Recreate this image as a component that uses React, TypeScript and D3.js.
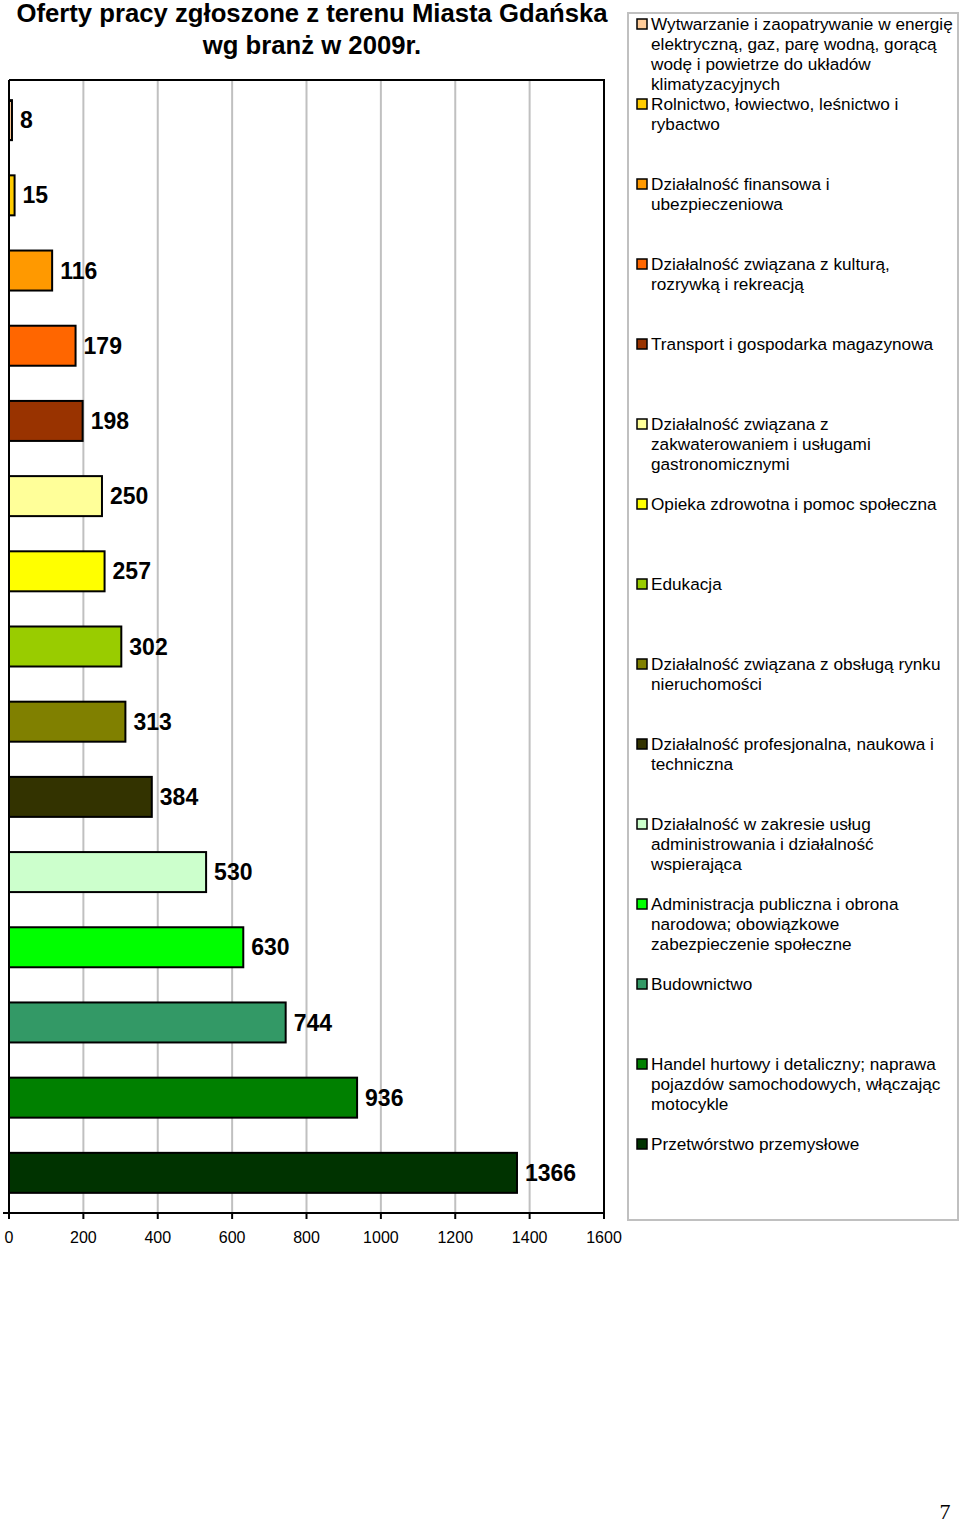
import { useEffect, useRef } from 'react';
import * as d3 from 'd3';

const titleLines = ['Oferty pracy zgłoszone z terenu Miasta Gdańska', 'wg branż w 2009r.'];

const values = [8, 15, 116, 179, 198, 250, 257, 302, 313, 384, 530, 630, 744, 936, 1366];

const colors = [
    '#FFCC99', '#FFCC00', '#FF9900', '#FF6600', '#993300',
    '#FFFF99', '#FFFF00', '#99CC00', '#808000', '#333300',
    '#CCFFCC', '#00FF00', '#339966', '#008000', '#003300',
];

const legendLabels: string[][] = [
    ['Wytwarzanie i zaopatrywanie w energię', 'elektryczną, gaz, parę wodną, gorącą', 'wodę i powietrze do układów', 'klimatyzacyjnych'],
    ['Rolnictwo, łowiectwo, leśnictwo i', 'rybactwo'],
    ['Działalność finansowa i', 'ubezpieczeniowa'],
    ['Działalność związana z kulturą,', 'rozrywką i rekreacją'],
    ['Transport i gospodarka magazynowa'],
    ['Działalność związana z', 'zakwaterowaniem i usługami', 'gastronomicznymi'],
    ['Opieka zdrowotna i pomoc społeczna'],
    ['Edukacja'],
    ['Działalność związana z obsługą rynku', 'nieruchomości'],
    ['Działalność profesjonalna, naukowa i', 'techniczna'],
    ['Działalność w zakresie usług', 'administrowania i działalność', 'wspierająca'],
    ['Administracja publiczna i obrona', 'narodowa; obowiązkowe', 'zabezpieczenie społeczne'],
    ['Budownictwo'],
    ['Handel hurtowy i detaliczny; naprawa', 'pojazdów samochodowych, włączając', 'motocykle'],
    ['Przetwórstwo przemysłowe'],
];

const xTicks = [0, 200, 400, 600, 800, 1000, 1200, 1400, 1600];

const FONT = 'Arial, "Liberation Sans", sans-serif';

export default function App() {
    const svgRef = useRef<SVGSVGElement | null>(null);

    useEffect(() => {
        if (!svgRef.current) {
            return;
        }
        const svg = d3.select(svgRef.current);
        svg.selectAll('*').remove();

        const plot = { left: 9, right: 604, top: 80, bottom: 1213 };

        const x = d3.scaleLinear().domain([0, 1600]).range([plot.left, plot.right]);
        const y = d3
            .scaleBand<number>()
            .domain(d3.range(values.length))
            .range([plot.top, plot.bottom])
            .paddingInner(0.468)
            .paddingOuter(0.268);

        // title
        svg.append('g')
            .selectAll('text')
            .data(titleLines)
            .join('text')
            .attr('x', 312)
            .attr('y', (_, i) => 22 + i * 32)
            .attr('text-anchor', 'middle')
            .attr('font-family', FONT)
            .attr('font-weight', 700)
            .attr('font-size', 25.7)
            .attr('fill', '#000')
            .text((d) => d);

        // gridlines
        svg.append('g')
            .selectAll('line')
            .data(xTicks.slice(1, -1))
            .join('line')
            .attr('x1', (d) => x(d))
            .attr('x2', (d) => x(d))
            .attr('y1', plot.top)
            .attr('y2', plot.bottom)
            .attr('stroke', '#c0c0c0')
            .attr('stroke-width', 2);

        // frame top + right
        svg.append('path')
            .attr('d', `M${plot.left},${plot.top}H${plot.right}V${plot.bottom}`)
            .attr('fill', 'none')
            .attr('stroke', '#000')
            .attr('stroke-width', 2);

        // bars
        svg.append('g')
            .selectAll('rect')
            .data(values)
            .join('rect')
            .attr('x', x(0))
            .attr('y', (_, i) => y(i) ?? 0)
            .attr('width', (d) => x(d) - x(0))
            .attr('height', y.bandwidth())
            .attr('fill', (_, i) => colors[i])
            .attr('stroke', '#000')
            .attr('stroke-width', 2);

        // value labels
        svg.append('g')
            .selectAll('text')
            .data(values)
            .join('text')
            .attr('x', (d) => x(d) + 8)
            .attr('y', (_, i) => (y(i) ?? 0) + y.bandwidth() / 2)
            .attr('dy', '0.35em')
            .attr('font-family', FONT)
            .attr('font-weight', 700)
            .attr('font-size', 23)
            .attr('fill', '#000')
            .text((d) => String(d));

        // axes
        const xAxis = svg.append('g').attr('transform', `translate(0,${plot.bottom})`);
        xAxis.append('line')
            .attr('x1', plot.left - 6)
            .attr('x2', plot.right)
            .attr('stroke', '#000')
            .attr('stroke-width', 2);
        xAxis.selectAll('line.tick')
            .data(xTicks)
            .join('line')
            .attr('class', 'tick')
            .attr('x1', (d) => x(d))
            .attr('x2', (d) => x(d))
            .attr('y1', 0)
            .attr('y2', 6)
            .attr('stroke', '#000')
            .attr('stroke-width', 2);
        xAxis.selectAll('text')
            .data(xTicks)
            .join('text')
            .attr('x', (d) => x(d))
            .attr('y', 30)
            .attr('text-anchor', 'middle')
            .attr('font-family', FONT)
            .attr('font-size', 16)
            .attr('fill', '#000')
            .text((d) => String(d));

        svg.append('line')
            .attr('x1', plot.left)
            .attr('x2', plot.left)
            .attr('y1', plot.top)
            .attr('y2', plot.bottom)
            .attr('stroke', '#000')
            .attr('stroke-width', 2);

        // legend
        const legend = svg.append('g');
        legend.append('rect')
            .attr('x', 628)
            .attr('y', 13)
            .attr('width', 330)
            .attr('height', 1207)
            .attr('fill', '#fff')
            .attr('stroke', '#c0c0c0')
            .attr('stroke-width', 2);

        const items = legend
            .selectAll('g')
            .data(legendLabels)
            .join('g')
            .attr('transform', (_, i) => `translate(637,${24 + i * 80})`);

        items.append('rect')
            .attr('x', 0)
            .attr('y', -5)
            .attr('width', 10)
            .attr('height', 10)
            .attr('fill', (_, i) => colors[i])
            .attr('stroke', '#000')
            .attr('stroke-width', 1.5);

        items.each(function (lines) {
            d3.select(this)
                .selectAll('text')
                .data(lines)
                .join('text')
                .attr('x', 14)
                .attr('y', (_, j) => j * 20)
                .attr('dy', '0.35em')
                .attr('font-family', FONT)
                .attr('font-size', 17.2)
                .attr('fill', '#000')
                .text((d) => d);
        });

        // page number
        svg.append('text')
            .attr('x', 945)
            .attr('y', 1519)
            .attr('text-anchor', 'middle')
            .attr('font-family', '"Liberation Serif", "Times New Roman", serif')
            .attr('font-size', 22)
            .attr('fill', '#000')
            .text('7');
    }, []);

    return (
        <svg
            ref={svgRef}
            width={960}
            height={1524}
            style={{ position: 'absolute', left: 0, top: 0, background: '#fff' }}
        />
    );
}
